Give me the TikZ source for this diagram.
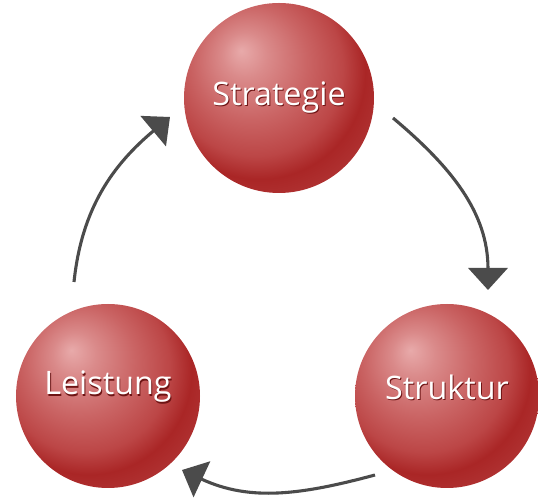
\documentclass[tikz,border=0pt]{standalone}
\usepackage{fontspec}
\newfontfamily\labelfont{Open Sans}
\usetikzlibrary{arrows.meta}
\definecolor{sphLight}{RGB}{232,170,170}
\definecolor{sphPale}{RGB}{218,138,138}
\definecolor{sphMid}{RGB}{202,100,100}
\definecolor{sphDeep}{RGB}{188,70,70}
\definecolor{sphDark}{RGB}{170,38,38}
\definecolor{sphEdge}{RGB}{198,100,100}
\definecolor{arrowgray}{RGB}{75,75,75}
\definecolor{txtshadow}{RGB}{110,20,20}
\pgfdeclareradialshading{sphere}{\pgfpoint{-10bp}{12.5bp}}{color(0bp)=(sphLight); color(6bp)=(sphPale); color(15bp)=(sphMid); color(23bp)=(sphDeep); color(28bp)=(sphDark); color(33bp)=(sphDark!80!sphEdge); color(39bp)=(sphEdge); color(60bp)=(sphEdge)}
\newcommand{\shadowtext}[2][0pt]{\raisebox{#1}[\height][\depth]{\rlap{\hspace{0.7pt}\raisebox{-0.9pt}{\textcolor{txtshadow}{#2}}}#2}}
\begin{document}
\begin{tikzpicture}[
    ball/.style={circle, minimum size=4.6cm, inner sep=0pt, shading=sphere, text=white, font=\labelfont\fontsize{23}{26}\selectfont},
    cyc/.style={line width=2.2pt, draw=arrowgray, -{Triangle[width=0.98cm,length=0.55cm]}}
]
        \useasboundingbox (0,0) rectangle (13.45,12.475);
        \node[ball, minimum size=4.75cm] (strat) at (6.975,10.025) {\shadowtext{Strategie}};
        \node[ball] (leist) at (2.7,2.575) {\shadowtext[6pt]{Leistung}};
        \node[ball] (strukt) at (11.175,2.575) {\shadowtext[6pt]{Struktur}};
        \coordinate (c1) at (9.825,9.525);
        \coordinate (c2) at (12.2,5.225);
        \coordinate (c3) at (9.375,0.6);
        \coordinate (c4) at (4.55,0.725);
        \coordinate (c5) at (1.85,5.425);
        \coordinate (c6) at (4.25,9.55);
        \draw[cyc] (c1) to[out=-40,in=90] (c2);
        \draw[cyc] (c3) to[out=195,in=-25] (c4);
        \draw[cyc] (c5) to[out=84,in=220] (c6);
    \end{tikzpicture}
\end{document}
